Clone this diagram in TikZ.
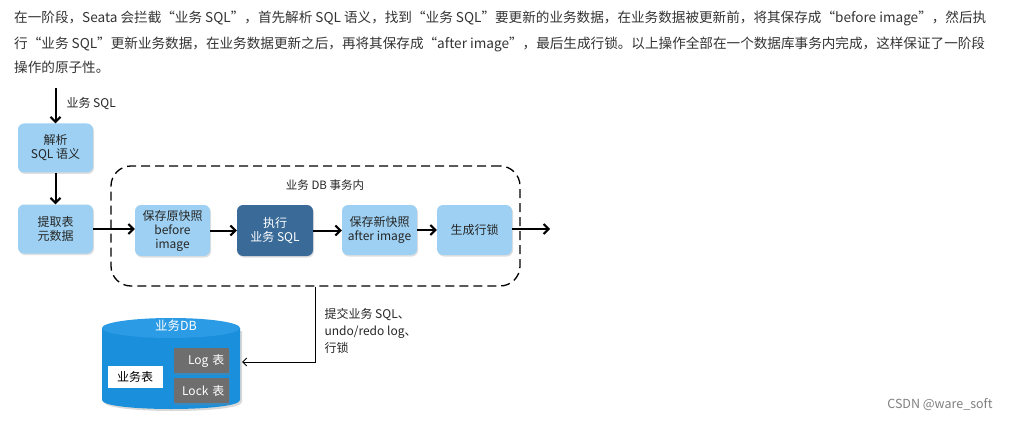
\documentclass[tikz,border=0pt]{standalone}
\usepackage{fontspec}
\setmainfont{Noto Sans CJK SC}
\usetikzlibrary{arrows.meta,shadows}
\definecolor{lb}{HTML}{9DD0F2}
\definecolor{dbl}{HTML}{3A6B98}
\definecolor{cyl}{HTML}{1A8FDB}
\definecolor{cyltop}{HTML}{2A9BE4}
\definecolor{gbox}{HTML}{6E6E6E}
\definecolor{txt}{HTML}{333333}
\begin{document}
\begin{tikzpicture}[x=1pt,y=-1pt,
  box/.style={rounded corners=6pt, fill=lb, minimum width=75pt, minimum height=49pt,
    align=center, font=\fontsize{12}{14}\selectfont, text=black!85, inner sep=2pt,
    drop shadow={opacity=0.25,shadow xshift=1pt,shadow yshift=-1.5pt}},
  flow/.style={line width=2pt, -{Straight Barb[length=5pt,width=10pt]}},
  para/.style={anchor=west, text=txt, font=\fontsize{13.6}{15}\selectfont, inner sep=0pt},
  tbl/.style={fill=gbox, text=white, minimum width=55pt, minimum height=25pt, text width=47pt,
    align=right, font=\fontsize{12}{14}\selectfont,
    drop shadow={opacity=0.3,shadow xshift=1pt,shadow yshift=-1.5pt}},
  lbl/.style={font=\fontsize{12}{14}\selectfont, text=black!85}
]
\fill[white] (0,0) rectangle (1011,422);
\useasboundingbox (0,0) rectangle (1011,422);

% paragraph
\node[para] (l1) at (14,18) {在一阶段，Seata 会拦截“业务 SQL”，首先解析 SQL 语义，找到“业务 SQL”要更新的业务数据，在业务数据被更新前，将其保存成“before image”，然后执};
\node[para] (l2) at (14,44) {行“业务 SQL”更新业务数据，在业务数据更新之后，再将其保存成“after image”，最后生成行锁。以上操作全部在一个数据库事务内完成，这样保证了一阶段};
\node[para] (l3) at (14,67) {操作的原子性。};

% transaction frame
\node[draw, line width=1.3pt, dash pattern=on 9pt off 5pt, rounded corners=20pt,
  minimum width=409pt, minimum height=120pt] (tx) at (315.5,226) {};
\node[lbl, font=\fontsize{11.5}{13}\selectfont] (txlabel) at (325,185) {业务 DB 事务内};

% boxes
\node[box] (parse) at (55.5,148) {解析\\SQL 语义};
\node[box] (meta) at (55.5,229) {提取表\\元数据};
\node[box, minimum height=51pt] (before) at (172.5,230.5) {保存原快照\\before\\image};
\node[box, fill=dbl, text=white, minimum width=76pt, minimum height=51pt] (exec) at (275,230.5) {执行\\业务 SQL};
\node[box, minimum height=50pt] (after) at (379.5,230) {保存新快照\\after image};
\node[box, minimum height=50pt] (lock) at (474.5,230) {生成行锁};

% flow arrows
\coordinate (in) at (55.5,88);
\draw[flow] (in) -- (parse.north);
\node[lbl, anchor=west] (sqllabel) at (63,104) {业务 SQL};
\draw[flow] (parse.south) -- (meta.north);
\draw[flow] (meta.east) -- (meta.east -| before.west);
\draw[flow] (before.east) -- (before.east -| exec.west);
\draw[flow] (exec.east) -- (exec.east -| after.west);
\draw[flow] (after.east) -- (lock.west);
\coordinate (out) at (550,229);
\draw[flow] (lock.east |- out) -- (out);

% database cylinder
\fill[black, opacity=0.15] (104,331) -- (104,402) .. controls (104,414) and (242,414) .. (242,402) -- (242,331) -- cycle;
\fill[cyl] (102,328) -- (102,400) .. controls (102,412) and (240,412) .. (240,400) -- (240,328) -- cycle;
\fill[cyltop] (171,328) ellipse [x radius=69pt, y radius=10pt];
\node[text=white, font=\fontsize{12.5}{14}\selectfont] (dblabel) at (176,326) {业务DB};
\node[tbl] (logt) at (201,360.5) {Log 表};
\node[tbl] (lockt) at (201,390.5) {Lock 表};
\node[fill=white, minimum width=55pt, minimum height=22pt, font=\fontsize{12}{14}\selectfont] (biz) at (135,376.5) {业务表};

% commit connector
\coordinate (dbin) at (242,362);
\draw[line width=1pt, -{Straight Barb[length=4pt,width=8pt]}] (tx.south) |- (dbin);
\node[lbl, anchor=north west, align=left, font=\fontsize{12}{17}\selectfont] (commitlabel) at (321,305) {提交业务 SQL、\\undo/redo log、\\行锁};

% watermark
\node[anchor=east, text=black!50, font=\fontsize{12.5}{14}\selectfont] (wm) at (996,405) {CSDN @ware\_soft};
\end{tikzpicture}
\end{document}
